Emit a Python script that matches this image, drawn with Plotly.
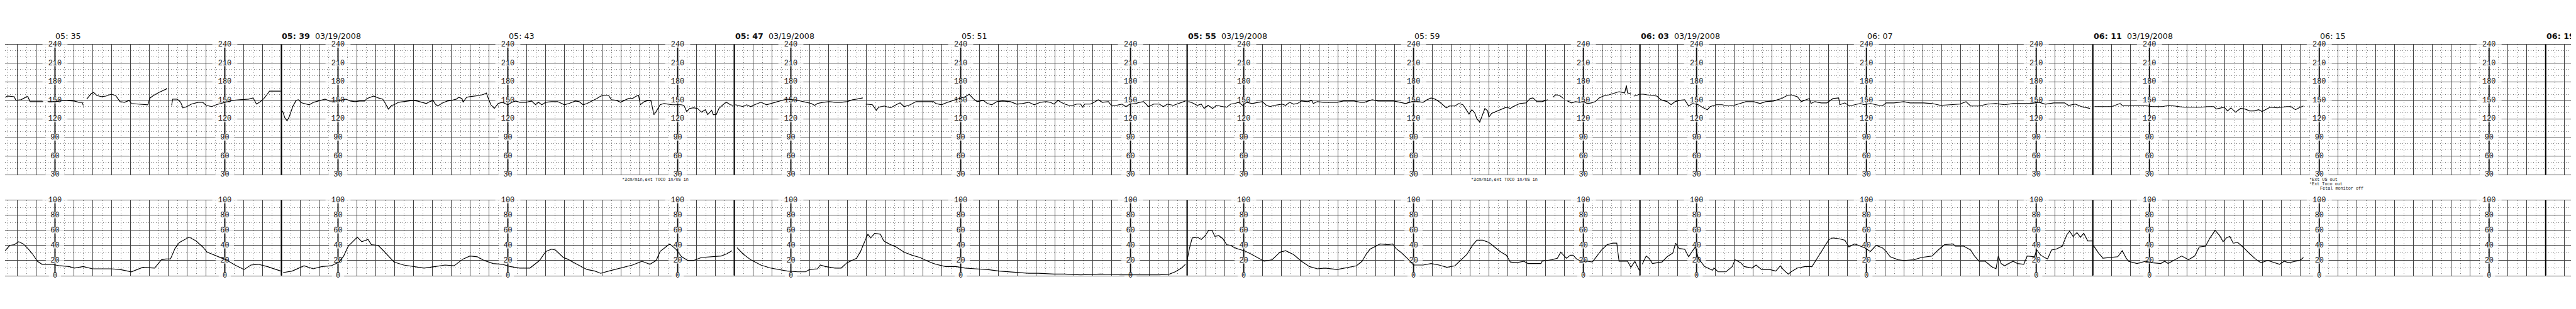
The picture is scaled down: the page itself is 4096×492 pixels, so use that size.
import plotly.graph_objects as go

# ---------------- DATA ----------------
ORIGIN = "05:35"          # time of the first printed time label (x = 0)
DATE = "03/19/2008"
PAGE_STARTS = ["05:39", "05:47", "05:55", "06:03", "06:11", "06:19"]
TIME_LABELS = ["05:35", "05:39", "05:43", "05:47", "05:51", "05:55", "05:59",
               "06:03", "06:07", "06:11", "06:15", "06:19"]
SCALE_COLUMNS = ["05:35", "05:38", "05:40", "05:43", "05:46", "05:48", "05:51",
                 "05:54", "05:56", "05:59", "06:02", "06:04", "06:07", "06:10",
                 "06:12", "06:15", "06:18"]
FHR_TICKS = [240, 210, 180, 150, 120, 90, 60, 30]
UC_TICKS = [100, 80, 60, 40, 20, 0]
NOTE_TEXT = "*3cm/min,ext TOCO in/US in"
NOTE_TIMES = ["05:45:00", "06:00:00"]
END_NOTES = ["*Ext US out", "*Ext Toco out", "Fetal monitor off"]
END_NOTE_TIMES = ["06:14:49", "06:14:49", "06:15:00"]

# (minutes after 05:35, bpm); None = signal gap
FHR_PAGE1 = [(-0.88,155),(-0.84,157),(-0.72,156),(-0.69,150),(-0.60,151),(-0.50,156),(-0.48,156),(-0.44,148),(-0.36,148),(-0.21,148),(-0.17,None),(-0.13,148),(0.01,148),(0.17,150),(0.34,149),(0.42,147),(0.48,147),(0.50,142),(0.53,None),(0.56,152),(0.64,161),(0.68,163),(0.74,158),(0.82,156),(0.90,157),(0.99,160),(1.07,158),(1.15,148),(1.23,147),(1.31,150),(1.35,145),(1.47,144),(1.64,143),(1.68,154),(1.74,158),(1.84,163),(1.92,166),(1.98,169),(2.02,None),(2.06,142),(2.08,152),(2.16,152),(2.22,147),(2.26,138),(2.33,140),(2.41,144),(2.53,147),(2.61,147),(2.67,142),(2.77,140),(2.85,143),(2.93,145),(3.02,147),(3.14,150),(3.26,151),(3.42,152),(3.50,154),(3.56,144),(3.63,148),(3.69,153),(3.75,160),(3.79,165),(3.89,165),(3.99,165)]
FHR_PAGE2 = [(4.02,133),(4.06,122),(4.10,117),(4.14,124),(4.20,140),(4.26,150),(4.30,151),(4.36,146),(4.49,143),(4.57,147),(4.65,149),(4.77,152),(4.85,149),(4.94,149),(5.06,150),(5.14,152),(5.22,149),(5.30,148),(5.38,149),(5.47,149),(5.51,153),(5.63,157),(5.71,154),(5.79,152),(5.83,146),(5.89,136),(5.95,142),(5.99,143),(6.07,147),(6.15,148),(6.24,149),(6.32,150),(6.40,149),(6.48,147),(6.56,145),(6.62,148),(6.68,150),(6.72,144),(6.76,141),(6.85,146),(6.93,149),(7.01,150),(7.09,152),(7.13,155),(7.19,153),(7.21,147),(7.27,155),(7.33,156),(7.41,157),(7.50,158),(7.58,160),(7.62,162),(7.66,152),(7.70,143),(7.76,137),(7.83,145),(7.90,147),(8.00,143),(8.07,147),(8.14,149),(8.21,147),(8.32,147),(8.42,149),(8.49,143),(8.54,147),(8.60,143),(8.67,147),(8.77,148),(8.88,148),(8.95,145),(9.00,143),(9.08,145),(9.19,149),(9.26,148),(9.33,143),(9.40,145),(9.47,148),(9.57,153),(9.64,157),(9.71,158),(9.78,158),(9.83,151),(9.92,150),(9.99,147),(10.06,150),(10.13,153),(10.20,153),(10.27,157),(10.31,158),(10.34,143),(10.41,148),(10.48,150),(10.53,149),(10.58,127),(10.62,132),(10.69,143),(10.76,145),(10.90,143),(11.06,143),(11.11,142),(11.16,132),(11.21,137),(11.28,138),(11.35,137),(11.42,131),(11.49,135),(11.53,127),(11.60,134),(11.63,127),(11.68,127),(11.73,137),(11.80,143),(11.86,147),(11.93,143),(11.98,142)]
FHR_PAGE3 = [(12.02,143),(12.15,140),(12.22,143),(12.29,140),(12.36,143),(12.47,147),(12.57,143),(12.64,145),(12.71,147),(12.84,150),(12.94,152),(13.12,150),(13.22,148),(13.36,145),(13.42,142),(13.47,145),(13.57,147),(13.68,148),(13.78,147),(13.89,147),(13.99,148),(14.09,151),(14.16,152),(14.27,154),(14.30,None),(14.32,144),(14.44,143),(14.51,134),(14.55,139),(14.65,141),(14.76,138),(14.86,143),(14.93,146),(15.00,140),(15.11,143),(15.21,148),(15.32,148),(15.42,148),(15.52,148),(15.56,145),(15.66,143),(15.77,147),(15.87,150),(15.98,153),(16.08,156),(16.15,160),(16.22,153),(16.29,148),(16.40,150),(16.47,145),(16.55,143),(16.64,148),(16.74,149),(16.88,148),(16.99,144),(17.09,145),(17.20,147),(17.30,143),(17.41,147),(17.51,148),(17.58,147),(17.65,144),(17.72,150),(17.77,147),(17.84,144),(17.91,142),(17.98,142),(18.05,144),(18.12,144),(18.15,139),(18.19,144),(18.29,144),(18.36,147),(18.43,151),(18.50,147),(18.61,148),(18.66,142),(18.75,142),(18.85,144),(18.92,140),(18.99,144),(19.09,145),(19.16,147),(19.23,148),(19.32,140),(19.41,144),(19.51,144),(19.58,140),(19.65,144),(19.76,142),(19.86,145),(19.97,149)]
FHR_PAGE4 = [(20.02,148),(20.07,147),(20.18,142),(20.25,144),(20.30,137),(20.37,142),(20.45,137),(20.52,142),(20.63,140),(20.70,139),(20.77,144),(20.84,145),(20.91,147),(20.98,142),(21.05,147),(21.15,145),(21.26,147),(21.33,148),(21.40,142),(21.47,140),(21.54,142),(21.61,143),(21.68,144),(21.74,142),(21.81,147),(21.88,144),(21.95,145),(22.02,149),(22.13,148),(22.20,150),(22.23,145),(22.30,148),(22.41,147),(22.51,147),(22.65,147),(22.76,149),(22.88,149),(22.95,149),(23.06,147),(23.13,147),(23.27,151),(23.37,149),(23.48,149),(23.65,149),(23.76,147),(23.86,145),(23.97,148),(24.07,148),(24.17,147),(24.24,151),(24.31,154),(24.38,152),(24.45,148),(24.52,143),(24.58,138),(24.63,141),(24.73,141),(24.80,145),(24.87,143),(24.91,138),(24.98,128),(25.03,135),(25.08,130),(25.12,120),(25.17,115),(25.22,127),(25.26,137),(25.31,133),(25.33,123),(25.38,129),(25.43,131),(25.53,135),(25.64,139),(25.71,137),(25.78,141),(25.88,145),(25.99,146),(26.06,153),(26.11,154),(26.18,148),(26.27,148),(26.37,151),(26.41,None),(26.46,155),(26.51,159),(26.58,158),(26.65,153),(26.68,None),(26.72,149),(26.79,146),(26.86,148),(26.93,147),(27.00,148),(27.07,145),(27.14,146),(27.21,148),(27.28,154),(27.35,157),(27.45,159),(27.56,162),(27.63,164),(27.73,162),(27.76,174),(27.78,162),(27.84,161),(27.86,None),(27.89,157),(27.94,158),(27.99,160)]
FHR_PAGE5 = [(28.01,160),(28.06,160),(28.13,159),(28.23,158),(28.30,157),(28.37,151),(28.48,148),(28.55,143),(28.62,148),(28.69,150),(28.79,151),(28.86,141),(28.93,145),(29.03,143),(29.10,139),(29.19,135),(29.24,140),(29.35,143),(29.45,143),(29.56,141),(29.66,142),(29.77,145),(29.87,148),(30.01,148),(30.12,145),(30.22,148),(30.36,149),(30.50,153),(30.60,158),(30.67,159),(30.78,156),(30.85,148),(30.99,153),(31.02,145),(31.09,148),(31.20,146),(31.30,146),(31.41,153),(31.51,154),(31.53,143),(31.62,146),(31.70,141),(31.79,143),(31.89,145),(31.96,143),(32.07,145),(32.17,143),(32.28,141),(32.35,146),(32.49,146),(32.66,148),(32.77,146),(33.01,146),(33.16,145),(33.31,142),(33.46,143),(33.65,144),(33.76,148),(33.84,141),(33.99,141),(34.14,144),(34.29,145),(34.44,143),(34.59,145),(34.74,145),(34.89,145),(35.05,147),(35.16,144),(35.31,146),(35.50,146),(35.57,142),(35.69,144),(35.80,140),(35.95,137)]
FHR_PAGE6 = [(36.03,140),(36.18,140),(36.33,140),(36.48,145),(36.52,142),(36.67,142),(36.89,142),(37.05,140),(37.23,140),(37.35,142),(37.50,140),(37.61,139),(37.76,139),(37.91,139),(38.03,140),(38.14,140),(38.18,136),(38.24,137),(38.32,139),(38.38,133),(38.44,138),(38.52,131),(38.61,137),(38.69,136),(38.77,133),(38.85,133),(38.93,135),(38.99,132),(39.05,135),(39.13,139),(39.26,138),(39.34,139),(39.42,140),(39.50,140),(39.58,135),(39.64,138),(39.72,141)]

# (minutes after 05:35, uterine activity 0-100)
UC_PAGE1 = [(-0.88,33),(-0.80,40),(-0.72,41),(-0.64,45),(-0.56,42),(-0.48,36),(-0.40,29),(-0.31,19),(-0.23,15),(-0.07,15),(0.09,13),(0.25,12),(0.34,10),(0.50,12),(0.66,9),(0.82,9),(0.99,9),(1.15,8),(1.35,5),(1.55,11),(1.76,10),(1.88,21),(1.96,22),(2.04,22),(2.12,36),(2.20,44),(2.33,49),(2.37,51),(2.49,46),(2.61,38),(2.69,31),(2.85,26),(3.02,21),(3.18,14),(3.34,8),(3.46,14),(3.59,15),(3.75,12),(3.91,8),(3.99,6)]
UC_PAGE2 = [(4.03,4),(4.19,6),(4.40,13),(4.56,9),(4.72,12),(4.88,13),(5.02,18),(5.10,26),(5.18,39),(5.26,45),(5.34,51),(5.42,45),(5.53,48),(5.59,41),(5.71,40),(5.79,34),(5.91,24),(5.99,18),(6.16,14),(6.32,12),(6.52,10),(6.72,12),(6.89,14),(7.05,13),(7.21,22),(7.33,26),(7.46,25),(7.58,20),(7.74,16),(7.90,15),(8.04,12),(8.21,10),(8.39,10),(8.56,20),(8.67,32),(8.77,35),(8.84,34),(8.98,24),(9.05,22),(9.22,15),(9.40,8),(9.54,6),(9.64,3),(9.78,6),(9.99,10),(10.20,14),(10.37,19),(10.51,15),(10.62,20),(10.69,32),(10.79,38),(10.86,42),(10.97,35),(11.07,25),(11.18,20),(11.28,20),(11.42,24),(11.60,25),(11.77,26),(11.87,29),(11.96,33)]
UC_PAGE3 = [(12.05,37),(12.15,29),(12.29,21),(12.47,14),(12.64,10),(12.77,8),(12.94,6),(13.12,5),(13.26,5),(13.33,8),(13.47,9),(13.52,14),(13.61,12),(13.78,10),(13.89,10),(13.99,17),(14.16,23),(14.23,32),(14.30,44),(14.36,55),(14.41,50),(14.48,56),(14.58,55),(14.64,46),(14.76,41),(14.86,38),(15.00,31),(15.14,27),(15.28,24),(15.42,19),(15.56,15),(15.73,12),(15.91,12),(16.08,10),(16.26,9),(16.47,8),(16.68,6),(16.85,5),(16.99,4),(17.20,3),(17.37,3),(17.65,2),(17.83,2),(18.12,1),(18.47,2),(18.82,1),(19.16,1),(19.51,1),(19.69,2),(19.79,5),(19.90,10),(19.97,15)]
UC_PAGE4 = [(20.00,20),(20.04,36),(20.09,50),(20.18,51),(20.25,48),(20.32,53),(20.38,60),(20.44,60),(20.49,52),(20.56,53),(20.63,49),(20.70,41),(20.77,40),(20.84,37),(20.91,35),(21.01,33),(21.12,29),(21.22,25),(21.36,19),(21.50,21),(21.64,31),(21.74,33),(21.88,28),(22.02,19),(22.16,12),(22.30,9),(22.44,10),(22.65,8),(22.78,10),(22.88,11),(22.99,13),(23.09,19),(23.16,28),(23.23,35),(23.34,39),(23.41,42),(23.55,41),(23.63,42),(23.69,36),(23.79,30),(23.90,22),(24.00,14),(24.17,14),(24.31,16),(24.45,14),(24.59,11),(24.73,13),(24.84,21),(24.94,28),(25.05,41),(25.12,47),(25.22,47),(25.33,44),(25.43,38),(25.53,32),(25.64,27),(25.71,18),(25.81,17),(25.95,19),(26.02,16),(26.13,16),(26.25,16),(26.27,19),(26.37,20),(26.44,21),(26.54,23),(26.60,31),(26.65,27),(26.70,23),(26.77,27),(26.82,27),(26.88,22),(26.96,19),(27.07,19),(27.16,18),(27.21,23),(27.31,33),(27.42,41),(27.52,43),(27.59,43),(27.63,19),(27.70,19),(27.78,19),(27.84,11),(27.91,19),(27.94,14),(27.99,7)]
UC_PAGE5 = [(28.04,15),(28.11,26),(28.16,23),(28.22,16),(28.30,17),(28.39,18),(28.48,25),(28.58,30),(28.63,43),(28.69,36),(28.79,35),(28.86,25),(28.93,33),(28.98,38),(29.03,23),(29.14,12),(29.28,7),(29.31,10),(29.38,5),(29.52,5),(29.63,12),(29.68,21),(29.78,17),(29.84,12),(29.98,10),(30.05,14),(30.15,8),(30.29,8),(30.40,6),(30.48,13),(30.53,8),(30.62,2),(30.67,5),(30.78,10),(30.92,12),(31.04,12),(31.13,23),(31.23,35),(31.34,48),(31.41,50),(31.51,49),(31.62,47),(31.69,38),(31.79,42),(31.89,39),(31.97,37),(32.07,32),(32.17,40),(32.28,37),(32.35,32),(32.42,25),(32.56,21),(32.66,20),(32.84,21),(32.97,24),(33.16,26),(33.27,34),(33.38,41),(33.53,42),(33.57,39),(33.72,39),(33.84,34),(33.91,26),(33.99,19),(34.10,19),(34.21,12),(34.29,9),(34.33,26),(34.38,16),(34.44,13),(34.59,19),(34.67,16),(34.78,15),(34.84,26),(34.97,25),(35.01,34),(35.08,27),(35.20,22),(35.27,34),(35.35,35),(35.46,39),(35.54,54),(35.59,59),(35.65,52),(35.72,57),(35.78,51),(35.84,56),(35.91,46),(35.99,46)]
UC_PAGE6 = [(36.01,40),(36.10,30),(36.18,23),(36.33,24),(36.44,25),(36.52,33),(36.59,23),(36.63,19),(36.78,16),(36.93,19),(37.05,17),(37.20,16),(37.27,19),(37.33,16),(37.42,20),(37.57,26),(37.69,21),(37.80,26),(37.88,38),(37.99,39),(38.07,50),(38.16,60),(38.24,53),(38.30,45),(38.36,50),(38.42,52),(38.48,43),(38.56,44),(38.65,38),(38.77,29),(38.89,21),(38.97,17),(39.09,20),(39.21,17),(39.30,15),(39.38,19),(39.46,17),(39.58,19),(39.66,20),(39.72,24)]

# ---------------- LAYOUT CONSTANTS (reference pixels, scaled) ----------------
S = 0.819
W, H = 4096, 492
REF_PX_PER_MIN = 109.9
REF_X_ORIGIN = 97.0            # reference pixel of the 05:35 position
TOP_240, TOP_30 = 77.0, 330.0  # reference pixel rows
BOT_100, BOT_0 = 379.5, 526.0
TIME_Y = 60.0
NOTE_Y = 340.0
END_NOTE_Y = [339.0, 348.0, 357.0]

GRID = "#404040"
MINOR = "#7a7a7a"
INK = "#111111"
MONO = "Liberation Mono, DejaVu Sans Mono, monospace"
SANS = "DejaVu Sans, Verdana, sans-serif"


def to_sec(hms):
    p = [int(v) for v in hms.split(":")]
    while len(p) < 3:
        p.append(0)
    o = [int(v) for v in ORIGIN.split(":")]
    return p[0] * 3600 + p[1] * 60 + p[2] - (o[0] * 3600 + o[1] * 60)


def build(pages):
    xs, ys = [], []
    for page in pages:
        for t, v in page:
            xs.append(t * 60.0)
            ys.append(v)
        xs.append(None)
        ys.append(None)
    return xs, ys


def paper_y(ref_px):
    return 1.0 - ref_px * S / H


x_left = -REF_X_ORIGIN / REF_PX_PER_MIN * 60.0
x_right = x_left + W / (REF_PX_PER_MIN * S) * 60.0

fhr_x, fhr_y = build([FHR_PAGE1, FHR_PAGE2, FHR_PAGE3, FHR_PAGE4, FHR_PAGE5, FHR_PAGE6])
uc_x, uc_y = build([UC_PAGE1, UC_PAGE2, UC_PAGE3, UC_PAGE4, UC_PAGE5, UC_PAGE6])

fig = go.Figure()


def vlines(times, lo, hi, xa, ya, width, color):
    xs, ys = [], []
    for t in times:
        s = to_sec(t)
        xs += [s, s, None]
        ys += [lo, hi, None]
    fig.add_trace(go.Scatter(x=xs, y=ys, mode="lines", xaxis=xa, yaxis=ya,
                             line=dict(color=color, width=width),
                             hoverinfo="skip", showlegend=False, cliponaxis=False))


def scale_labels(ticks, xa, ya):
    xs, ys, txt, sizes = [], [], [], []
    for t in SCALE_COLUMNS:
        for v in ticks:
            xs.append(to_sec(t))
            ys.append(v)
            txt.append(str(v))
            sizes.append((len(str(v)) * 8.9 + 8) * S)
    fig.add_trace(go.Scatter(x=xs, y=ys, mode="markers", xaxis=xa, yaxis=ya,
                             marker=dict(symbol="line-ew", size=sizes, color="white",
                                         line=dict(color="white", width=12 * S)),
                             hoverinfo="skip", showlegend=False, cliponaxis=False))
    fig.add_trace(go.Scatter(x=xs, y=ys, mode="text", xaxis=xa, yaxis=ya, text=txt,
                             textposition="middle center",
                             textfont=dict(family=MONO, size=14.5 * S, color=INK),
                             hoverinfo="skip", showlegend=False, cliponaxis=False))


# scale columns and page breaks (under the traces)
vlines(SCALE_COLUMNS, 30, 240, "x", "y", 2.0 * S + 0.3, INK)
vlines(SCALE_COLUMNS, 0, 100, "x2", "y2", 2.0 * S + 0.3, INK)
vlines(PAGE_STARTS, 30, 240, "x", "y", 2.6 * S, "#000000")
vlines(PAGE_STARTS, 0, 100, "x2", "y2", 2.6 * S, "#000000")
scale_labels(FHR_TICKS, "x", "y")
scale_labels(UC_TICKS, "x2", "y2")

# traces
fig.add_trace(go.Scatter(x=fhr_x, y=fhr_y, mode="lines", xaxis="x", yaxis="y",
                         line=dict(color="#000000", width=1.3 * S + 0.1),
                         connectgaps=False, showlegend=False, name="FHR"))
fig.add_trace(go.Scatter(x=uc_x, y=uc_y, mode="lines", xaxis="x2", yaxis="y2",
                         line=dict(color="#000000", width=1.3 * S + 0.1),
                         connectgaps=False, showlegend=False, name="UA"))

# time labels
ann = []
for t in TIME_LABELS:
    hh, mm = t.split(":")
    if t in PAGE_STARTS:
        text = "<b>%s: %s</b>\u00a0\u00a0%s" % (hh, mm, DATE)
    else:
        text = "%s: %s" % (hh, mm)
    ann.append(dict(x=to_sec(t), xref="x", y=paper_y(TIME_Y), yref="paper",
                    text=text, showarrow=False, xanchor="left", yanchor="middle",
                    font=dict(family=SANS, size=15.5 * S, color=INK), borderpad=0))
for t in NOTE_TIMES:
    ann.append(dict(x=to_sec(t), xref="x", y=paper_y(NOTE_Y), yref="paper",
                    text=NOTE_TEXT, showarrow=False, xanchor="left", yanchor="middle",
                    font=dict(family=MONO, size=8.3 * S, color=INK), borderpad=0))
for txt, t, yy in zip(END_NOTES, END_NOTE_TIMES, END_NOTE_Y):
    ann.append(dict(x=to_sec(t), xref="x", y=paper_y(yy), yref="paper",
                    text=txt, showarrow=False, xanchor="left", yanchor="middle",
                    font=dict(family=MONO, size=8.3 * S, color=INK), borderpad=0))

xcommon = dict(range=[x_left, x_right], tick0=0, dtick=20, showgrid=True,
               gridcolor=GRID, gridwidth=1, showticklabels=False, ticks="",
               zeroline=False, showline=True, mirror=True, linecolor=GRID,
               linewidth=1.2, layer="below traces",
               minor=dict(tick0=0, dtick=10, showgrid=True, gridcolor=MINOR,
                          griddash="1px,3px", gridwidth=1, ticks=""))


def ycommon(rng, dt, dom):
    return dict(range=rng, tick0=0, dtick=dt, domain=dom, showgrid=True,
                gridcolor=GRID, gridwidth=1, showticklabels=False, ticks="",
                zeroline=False, showline=False, layer="below traces",
                minor=dict(tick0=0, dtick=10, showgrid=True, gridcolor=MINOR,
                           griddash="1px,3px", gridwidth=1, ticks=""))


fig.update_layout(
    width=W, height=H, autosize=False,
    margin=dict(l=0, r=0, t=0, b=0, pad=0),
    paper_bgcolor="white", plot_bgcolor="white",
    showlegend=False,
    xaxis=dict(anchor="y", **xcommon),
    xaxis2=dict(anchor="y2", matches="x", **xcommon),
    yaxis=ycommon([30, 240], 30, [paper_y(TOP_30), paper_y(TOP_240)]),
    yaxis2=ycommon([0, 100], 20, [paper_y(BOT_0), paper_y(BOT_100)]),
    annotations=ann,
)

fig.write_html("out.html")
